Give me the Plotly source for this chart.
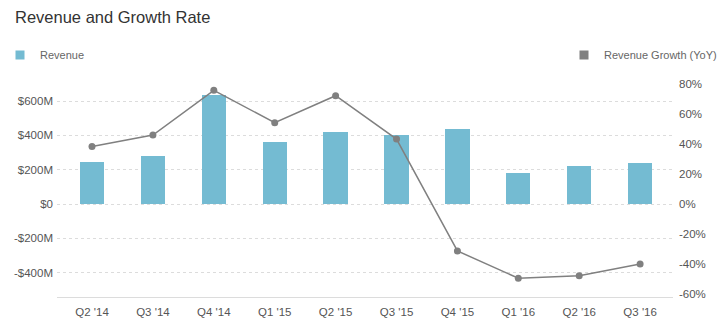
import plotly.graph_objects as go

categories = ["Q2 '14", "Q3 '14", "Q4 '14", "Q1 '15", "Q2 '15", "Q3 '15", "Q4 '15", "Q1 '16", "Q2 '16", "Q3 '16"]
revenue = [245, 280, 636, 363, 420, 400, 435, 183, 220, 241]  # $M
growth = [38.4, 46.0, 75.8, 54.2, 72.2, 43.3, -31.3, -49.5, -47.8, -40.0]  # %

left_ticks = [-400, -200, 0, 200, 400, 600]
left_labels = ["-$400M", "-$200M", "$0", "$200M", "$400M", "$600M"]
right_ticks = [-60, -40, -20, 0, 20, 40, 60, 80]
right_labels = ["-60%", "-40%", "-20%", "0%", "20%", "40%", "60%", "80%"]

FONT = "Liberation Sans, Arial, sans-serif"
BAR = "#74bbd2"
LINE = "#808080"
GRID = "#dcdcdc"
TXT = "#555555"

xs = list(range(len(categories)))

fig = go.Figure()
fig.add_trace(go.Bar(x=xs, y=revenue, name="Revenue", marker=dict(color=BAR, line=dict(width=0)),
                     width=0.4, yaxis="y", showlegend=False))
fig.add_trace(go.Scatter(x=xs, y=growth, mode="lines+markers", name="Revenue Growth (YoY)",
                         line=dict(color=LINE, width=1.5), marker=dict(color=LINE, size=7),
                         yaxis="y2", showlegend=False))
# legend entries (square swatches)
fig.add_trace(go.Scatter(x=[None], y=[None], mode="markers", name="Revenue",
                         marker=dict(color=BAR, symbol="square", size=9),
                         yaxis="y", legend="legend"))
fig.add_trace(go.Scatter(x=[None], y=[None], mode="markers", name="Revenue Growth (YoY)",
                         marker=dict(color=LINE, symbol="square", size=9),
                         yaxis="y2", legend="legend2"))

fig.update_layout(
    width=720, height=328,
    margin=dict(l=57, r=47, t=84, b=31),
    paper_bgcolor="white", plot_bgcolor="white",
    font=dict(family=FONT, size=11, color=TXT),
    title=dict(text="Revenue and Growth Rate", x=15/720, xref="container", xanchor="left",
               y=1-17/328, yref="container", yanchor="middle",
               font=dict(family=FONT, size=16.5, color="#333333")),
    bargap=0,
    xaxis=dict(range=[-0.575, 9.54], tickvals=xs, ticktext=categories, showgrid=False,
               showline=True, linecolor=GRID, linewidth=1, ticks="", zeroline=False,
               automargin=False, ticklabelstandoff=4, tickfont=dict(size=11.5, color=TXT)),
    yaxis=dict(range=[-542, 700], tickvals=left_ticks, ticktext=left_labels, showgrid=True,
               gridcolor=GRID, griddash="dot", zeroline=False, ticks="", showline=False,
               automargin=False, ticklabelstandoff=3, tickfont=dict(size=11.5, color=TXT)),
    yaxis2=dict(range=[-62, 80], tickvals=right_ticks, ticktext=right_labels, overlaying="y",
                side="right", showgrid=False, zeroline=False, ticks="", showline=False,
                automargin=False, ticklabelstandoff=5, tickfont=dict(size=11.5, color=TXT)),
    legend=dict(x=-3/720, xref="container", xanchor="left", y=1-55/328, yref="container",
                yanchor="middle", orientation="h",
                font=dict(size=11, color="#666666"), bgcolor="rgba(0,0,0,0)"),
    legend2=dict(x=564/720, xref="container", xanchor="left", y=1-55/328, yref="container",
                 yanchor="middle", orientation="h",
                 font=dict(size=11, color="#666666"), bgcolor="rgba(0,0,0,0)"),
)

fig.write_html("out.html")
